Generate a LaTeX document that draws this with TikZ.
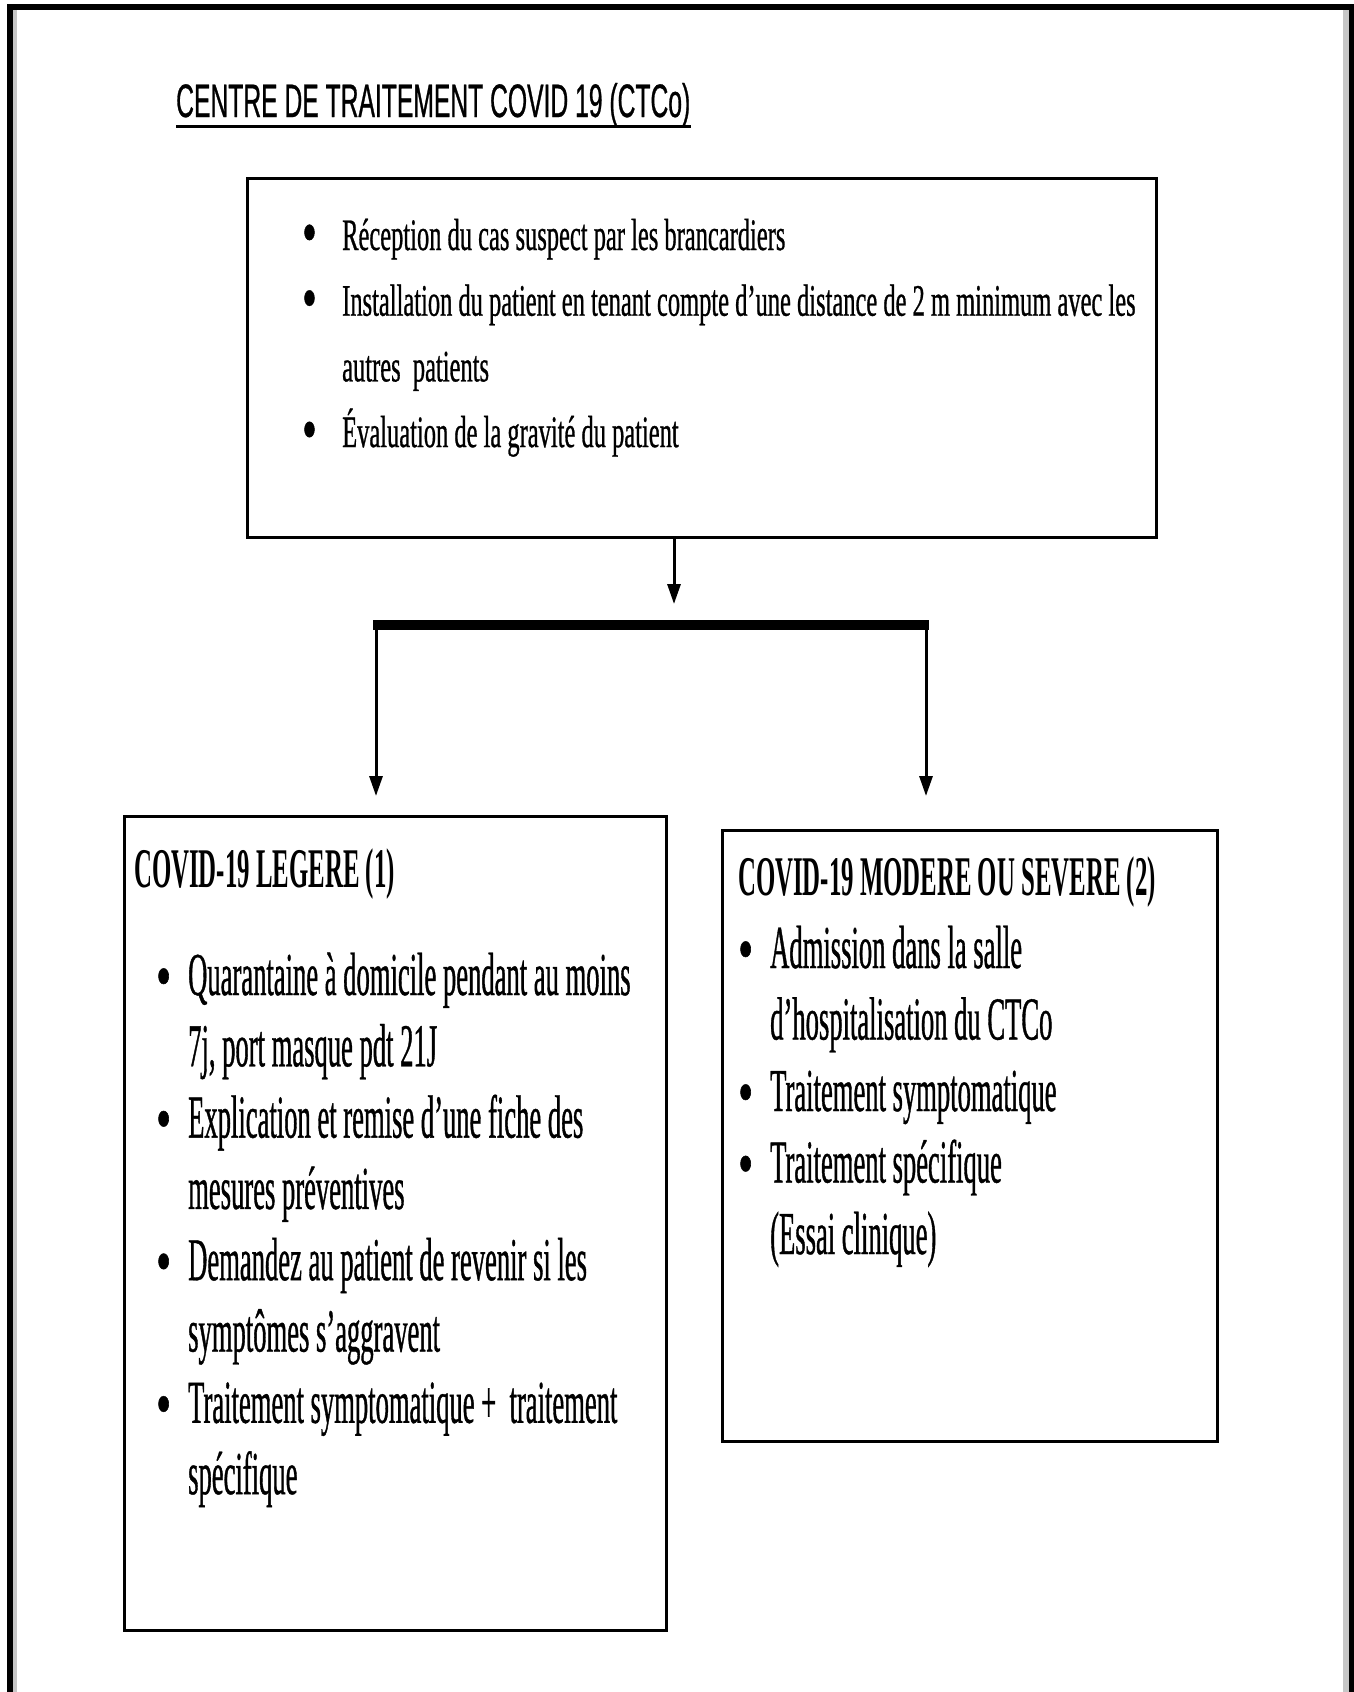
\documentclass[tikz,border=0pt]{standalone}
\usepackage{fontspec}
\usepackage{graphicx}
\usetikzlibrary{arrows.meta}
\newfontfamily\serifS[FakeStretch=0.544,FakeBold=0.6]{Liberation Serif}
\newfontfamily\serifL[FakeStretch=0.436,FakeBold=0.6]{Liberation Serif}
\newfontfamily\serifB[FakeStretch=0.443]{Liberation Serif}
\newfontfamily\sansT[FakeStretch=0.525,FakeBold=0.6]{Liberation Sans}
\newcommand\bulS{\raisebox{-4pt}{\scalebox{1.7}[1.45]{•}}}
\newcommand\bulL{\raisebox{-3pt}{\scalebox{1.6}[1.08]{•}}}
\newcommand\itemline[3]{\hbox{\makebox[#1][l]{#2}#3}}
\newcommand\contline[2]{\hbox{\hspace*{#1}#2}}
\tikzset{
  boxline/.style={draw=black, line width=2.5pt},
  arr/.style={draw=black, line width=3pt, -{Triangle[length=20pt,width=13pt]}},
  txt/.style={inner sep=0pt, anchor=base west},
}
\begin{document}
\begin{tikzpicture}[x=1pt,y=-1pt]
\useasboundingbox[fill=white] (0,0) rectangle (1354,1692);
% outer frame (open at the bottom)
\draw[gray!45, line width=4pt] (15,1692) -- (15,10);
\draw[gray!45, line width=6pt] (1346,10) -- (1346,1692);
\draw[black, line width=6pt] (10,1692) -- (10,6.5) -- (1351.5,6.5);
\draw[black, line width=5pt] (1351.5,4) -- (1351.5,1692);

% title
\node[txt, font=\sansT\fontsize{47}{50}\selectfont] (title) at (176,117) {CENTRE DE TRAITEMENT COVID 19 (CTCo)};
\draw[line width=3pt] ([yshift=-9pt]title.base west) -- ([yshift=-9pt]title.base east);

% top box
\node[boxline, minimum width=909pt, minimum height=359pt, anchor=north west, inner sep=0pt] (topbox) at (246,177) {};
\node[txt] (toptext) at (302,250) {\serifS\fontsize{45}{65.7}\selectfont\vtop{%
  \itemline{40pt}{\bulS}{Réception du cas suspect par les brancardiers}
  \itemline{40pt}{\bulS}{Installation du patient en tenant compte d’une distance de 2 m minimum avec les}
  \contline{40pt}{autres\ \ patients}
  \itemline{40pt}{\bulS}{Évaluation de la gravité du patient}}};

% connectors
\coordinate (tipTop) at (674,604);
\coordinate (barL) at (376,625);
\coordinate (barR) at (926,625);
\coordinate (tipL) at (376,796);
\coordinate (tipR) at (926,796);
\draw[arr] (topbox.south -| tipTop) -- (tipTop);
\draw[line width=10pt] ([xshift=-3pt]barL) -- ([xshift=3pt]barR);
\draw[arr] (barL) -- (tipL);
\draw[arr] (barR) -- (tipR);

% left box
\node[boxline, minimum width=542pt, minimum height=814pt, anchor=north west, inner sep=0pt] (leftbox) at (123,815) {};
\node[txt, font=\serifB\bfseries\fontsize{56}{60}\selectfont] (lefttitle) at (134,887) {COVID-19 LEGERE (1)};
\node[txt] (lefttext) at (156,995) {\serifL\fontsize{61}{71.3}\selectfont\vtop{%
  \itemline{32pt}{\bulL}{Quarantaine à domicile pendant au moins}
  \contline{32pt}{7j, port masque pdt 21J}
  \itemline{32pt}{\bulL}{Explication et remise d’une fiche des}
  \contline{32pt}{mesures préventives}
  \itemline{32pt}{\bulL}{Demandez au patient de revenir si les}
  \contline{32pt}{symptômes s’aggravent}
  \itemline{32pt}{\bulL}{Traitement symptomatique +\ \ traitement}
  \contline{32pt}{spécifique}}};

% right box
\node[boxline, minimum width=495pt, minimum height=611pt, anchor=north west, inner sep=0pt] (rightbox) at (721,829) {};
\node[txt, font=\serifB\bfseries\fontsize{56}{60}\selectfont] (righttitle) at (738,895) {COVID-19 MODERE OU SEVERE (2)};
\node[txt] (righttext) at (738,968) {\serifL\fontsize{61}{71.5}\selectfont\vtop{%
  \itemline{32pt}{\bulL}{Admission dans la salle}
  \contline{32pt}{d’hospitalisation du CTCo}
  \itemline{32pt}{\bulL}{Traitement symptomatique}
  \itemline{32pt}{\bulL}{Traitement spécifique}
  \contline{32pt}{(Essai clinique)}}};
\end{tikzpicture}
\end{document}
